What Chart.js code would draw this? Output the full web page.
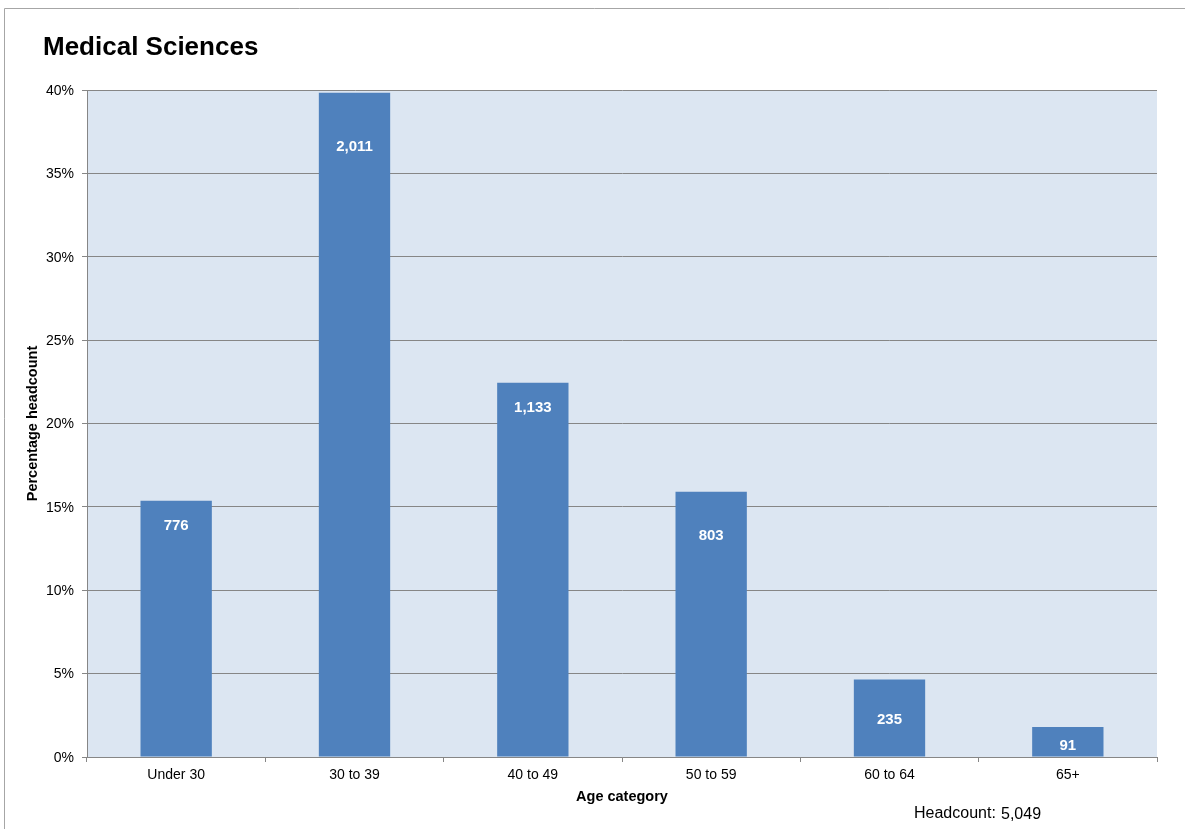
<!DOCTYPE html>
<html>
<head>
<meta charset="utf-8">
<script src="https://cdn.jsdelivr.net/npm/chart.js@4"></script>
<style>
html,body{margin:0;padding:0;background:#fff;}
canvas{display:block;}
</style>
</head>
<body>
<canvas id="c" width="1185" height="829"></canvas>
<script>
const chartTitle = 'Medical Sciences';
const categories = ['Under 30', '30 to 39', '40 to 49', '50 to 59', '60 to 64', '65+'];
const percentValues = [15.37, 39.83, 22.44, 15.90, 4.65, 1.80];
const headcounts = [776, 2011, 1133, 803, 235, 91];
const totalHeadcount = '5,049';
const yTickValues = [0, 5, 10, 15, 20, 25, 30, 35, 40];

const FONT = '"Liberation Sans", Arial, Helvetica, sans-serif';
const GRID = '#868686';

const decorPlugin = {
  id: 'decor',
  beforeDraw(chart) {
    const ctx = chart.ctx, a = chart.chartArea;
    ctx.save();
    ctx.fillStyle = '#dce6f2';
    ctx.fillRect(a.left, a.top, a.right - a.left, a.bottom - a.top);
    ctx.strokeStyle = '#a6a6a6';
    ctx.lineWidth = 1;
    ctx.beginPath();
    ctx.moveTo(4.5, chart.height);
    ctx.lineTo(4.5, 8.5);
    ctx.lineTo(chart.width, 8.5);
    ctx.stroke();
    ctx.restore();
  },
  afterDraw(chart) {
    const ctx = chart.ctx;
    ctx.save();
    ctx.fillStyle = '#000';
    ctx.textBaseline = 'alphabetic';
    ctx.textAlign = 'left';
    ctx.font = 'bold 26px ' + FONT;
    ctx.fillText(chartTitle, 43, 55);
    ctx.font = '16px ' + FONT;
    ctx.fillText('Headcount:', 914, 817.5);
    ctx.fillText(totalHeadcount, 1001, 819);
    ctx.restore();
  },
  afterDatasetsDraw(chart, args, opts) {
    const ctx = chart.ctx;
    const meta = chart.getDatasetMeta(0);
    ctx.save();
    ctx.fillStyle = '#fff';
    ctx.font = 'bold 15px ' + FONT;
    ctx.textAlign = 'center';
    ctx.textBaseline = 'middle';
    meta.data.forEach((bar, i) => {
      ctx.fillText(headcounts[i].toLocaleString('en-US'), bar.x, bar.y + opts.offsets[i]);
    });
    ctx.restore();
  }
};

new Chart(document.getElementById('c'), {
  type: 'bar',
  data: {
    labels: categories,
    datasets: [{
      data: percentValues,
      backgroundColor: '#4f81bd',
      borderWidth: 0,
      barPercentage: 0.4,
      categoryPercentage: 1.0
    }]
  },
  options: {
    responsive: false,
    animation: false,
    devicePixelRatio: 1,
    layout: { padding: { top: 90, right: 28, bottom: 0, left: 0 } },
    plugins: {
      legend: { display: false },
      title: { display: false },
      tooltip: { enabled: false },
      decor: { offsets: [25, 54, 25, 44, 40, 19] }
    },
    scales: {
      x: {
        offset: true,
        grid: { display: true, drawOnChartArea: false, drawTicks: true, tickLength: 5, color: GRID, offset: true },
        border: { display: true, color: GRID },
        ticks: { color: '#000', font: { family: FONT, size: 14 }, padding: 5, maxRotation: 0 },
        title: { display: true, text: 'Age category', color: '#000', font: { family: FONT, size: 14.5, weight: 'bold' }, padding: { top: 0, bottom: 23 } },
        afterFit(s) { s.height = 72; }
      },
      y: {
        min: 0, max: 40,
        afterBuildTicks(s) { s.ticks = yTickValues.map(v => ({ value: v })); },
        grid: { color: GRID, tickLength: 5, drawTicks: true },
        border: { display: true, color: GRID },
        ticks: { color: '#000', font: { family: FONT, size: 14 }, padding: 8, labelOffset: 1, callback: v => v + '%' },
        title: { display: true, text: 'Percentage headcount', color: '#000', font: { family: FONT, size: 14.5, weight: 'bold' }, padding: { top: 24, bottom: 0 } },
        afterFit(s) { s.width = 87; }
      }
    }
  },
  plugins: [decorPlugin]
});
</script>
</body>
</html>
